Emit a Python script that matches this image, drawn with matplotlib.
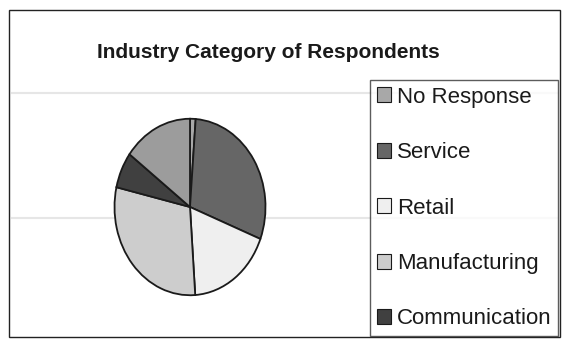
import matplotlib
matplotlib.use("Agg")
import matplotlib.pyplot as plt
from matplotlib.patches import Rectangle, Patch

title = "Industry Category of Respondents"
categories = ["No Response", "Service", "Retail", "Manufacturing", "Communication", "Other"]
values = [1.2, 29.7, 18.0, 29.7, 6.6, 14.8]
colors = ["#a8a8a8", "#666666", "#efefef", "#cdcdcd", "#404040", "#9c9c9c"]
legend_count = 5

plt.rcParams['font.family'] = ['Liberation Sans', 'DejaVu Sans']

fig = plt.figure(figsize=(5.66, 3.39), dpi=100)
W, H = 566, 339

def fx(x):
    return x / W

def fy(y):
    return 1 - y / H

# outer border
fig.patches.append(Rectangle((fx(9), fy(337)), fx(560) - fx(9), fy(10) - fy(337),
                             transform=fig.transFigure, fill=False, edgecolor='#222222', lw=1.0))
# faint scan lines
for yy in (93, 218):
    fig.add_artist(plt.Line2D([fx(12), fx(557)], [fy(yy), fy(yy)], transform=fig.transFigure,
                              color='#e6e6e6', lw=1.5, zorder=0))

cx, cy, rx, ry = 190, 207, 77, 90
ax = fig.add_axes([fx(cx - rx), fy(cy + ry), 2 * rx / W, 2 * ry / H])
wedges, _ = ax.pie(values, colors=colors, startangle=90, counterclock=False,
                   wedgeprops=dict(edgecolor='#1a1a1a', linewidth=1.3))
ax.set_aspect('auto')
ax.set_xlim(-1.02, 1.02)
ax.set_ylim(-1.02, 1.02)
ax.axis('off')

fig.text(fx(268), fy(52), title, ha='center', va='center', fontsize=15,
         fontweight='bold', color='#1a1a1a')

handles = [Patch(facecolor=colors[i], edgecolor='#1a1a1a', lw=0.8) for i in range(legend_count)]
leg = fig.legend(handles, categories[:legend_count], loc='upper left',
                 bbox_to_anchor=(fx(370), fy(80)), frameon=True, fontsize=16,
                 labelspacing=1.55, handlelength=0.65, handleheight=0.65,
                 handletextpad=0.25, borderpad=0.3, borderaxespad=0, fancybox=False)
leg.get_frame().set_edgecolor('#333333')
leg.get_frame().set_linewidth(1.0)
for t in leg.get_texts():
    t.set_color('#1a1a1a')

fig.savefig("out.png", dpi=100, facecolor='white')
